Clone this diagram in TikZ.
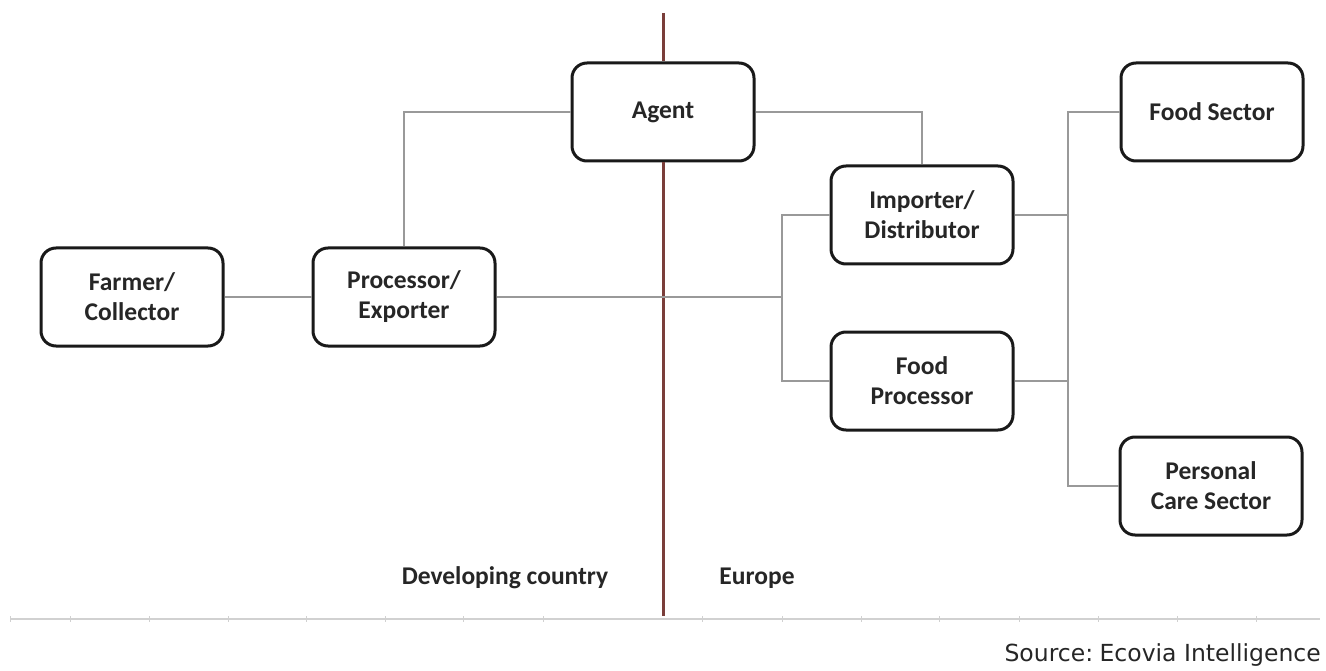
\documentclass[tikz,border=0pt]{standalone}
\usepackage{fontspec}
\setmainfont{Carlito}
\newfontfamily\srcfont{DejaVu Sans}
\begin{document}
\begin{tikzpicture}[x=1pt,y=-1pt,
  box/.style={draw=black!90, line width=3pt, rounded corners=15pt, fill=white,
    minimum width=182pt, minimum height=98pt, inner sep=0pt, align=center,
    font=\fontsize{25.5}{30}\selectfont\bfseries, text=black!85},
  link/.style={draw=black!40, line width=2pt},
  lbl/.style={font=\fontsize{25.5}{30}\selectfont\bfseries, text=black!85, inner sep=0pt}]
\definecolor{divider}{RGB}{122,62,58}
\useasboundingbox (0,0) rectangle (1326,671);
% bottom axis
\draw[black!18, line width=1.5pt] (10,619) -- (1320,619);
\foreach \t in {10,70,149,228,306,385,463,543,702,782,861,939,1019,1098,1177,1256}
  \draw[black!18, line width=1pt] (\t,616) -- (\t,622);
% nodes
\node[box] (agent) at (663,112) {Agent};
\node[box] (importer) at (922,215) {Importer/\\Distributor};
\node[box] (foodproc) at (922,381) {Food\\Processor};
\node[box] (foodsec) at (1212,112) {Food Sector};
\node[box] (personal) at (1211,486) {Personal\\Care Sector};
\node[box] (farmer) at (132,297) {Farmer/\\Collector};
\node[box] (proc) at (404,297) {Processor/\\Exporter};
\coordinate (jl) at (782,297);
\coordinate (jr) at (1068,297);
\coordinate (dtop) at (663,13);
\coordinate (dbot) at (663,616);
% divider
\draw[divider, line width=3pt] (dtop) -- (agent.north);
\draw[divider, line width=3pt] (agent.south) -- (dbot);
% connectors
\draw[link] (farmer.east) -- (proc.west);
\draw[link] (proc.north) |- (agent.west);
\draw[link] (agent.east) -| (importer.north);
\draw[link] (proc.east) -- (jl);
\draw[link] (importer.west) -| (jl) |- (foodproc.west);
\draw[link] (foodsec.west) -| (jr) |- (personal.west);
\draw[link] (importer.east) -- (importer.east -| jr);
\draw[link] (foodproc.east) -- (foodproc.east -| jr);
% labels
\node[lbl] (dev) at (505,578) {Developing country};
\node[lbl] (eur) at (757,578) {Europe};
\node[anchor=east, inner sep=0pt, font=\srcfont\fontsize{23.5}{27}\selectfont, text=black!85] (src) at (1321,655) {Source:\hspace{-0.15em} Ecovia Intelligence};
\end{tikzpicture}
\end{document}
